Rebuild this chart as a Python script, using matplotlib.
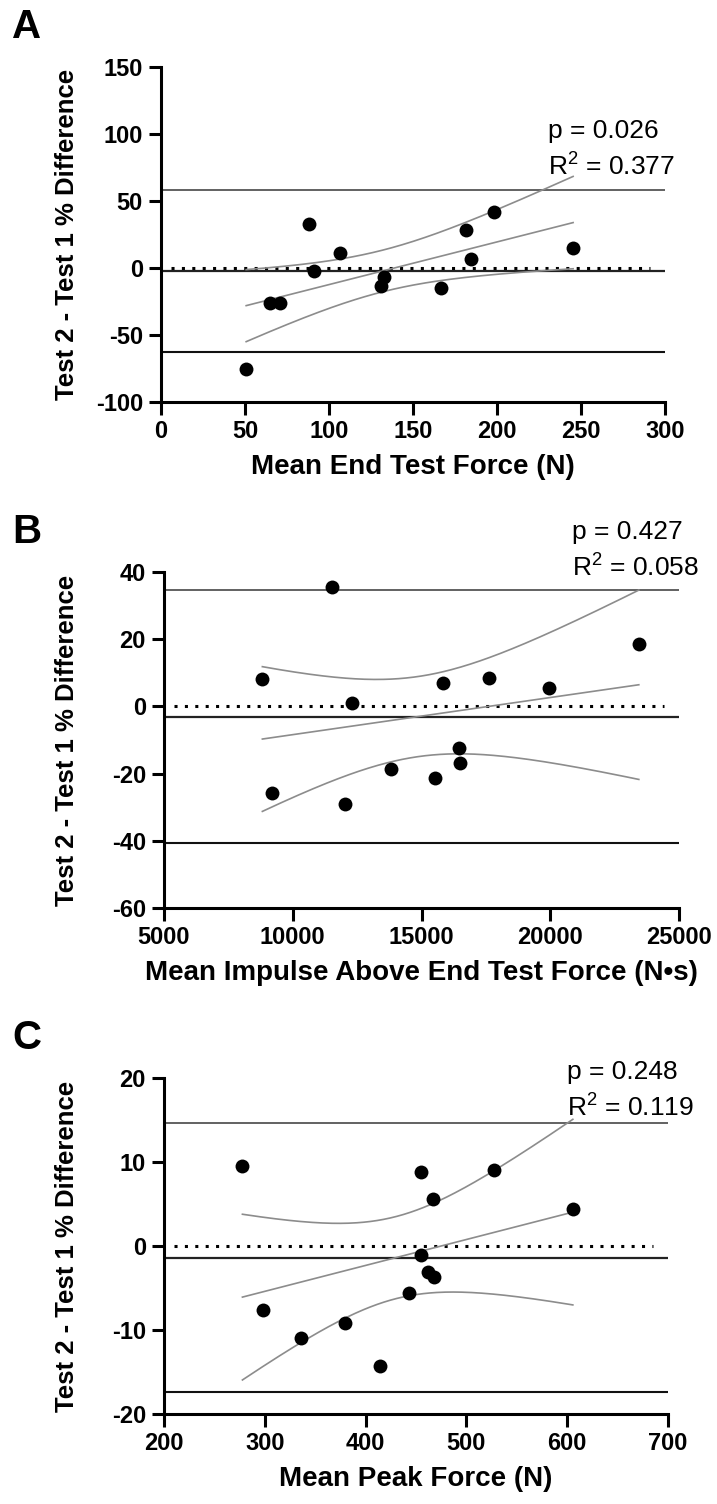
import numpy as np
import matplotlib
matplotlib.use('Agg')
import matplotlib.pyplot as plt
from matplotlib.transforms import blended_transform_factory

# panel A: end test force
end_force_mean = [50.7, 64.6, 71.0, 88.2, 90.8, 106.5, 131.0, 133.0, 166.8, 181.8, 184.5, 198.4, 245.3]
end_force_diff = [-75.3, -26.3, -26.3, 32.8, -2.5, 10.9, -13.2, -7.0, -14.9, 28.3, 6.7, 42.0, 15.2]

# panel B: impulse above end test force
impulse_mean = [8820, 9210, 11530, 12040, 12320, 13820, 15510, 15830, 16460, 16510, 17640, 19960, 23440]
impulse_diff = [8.2, -25.7, 35.6, -29.0, 1.1, -18.5, -21.4, 6.9, -12.5, -16.8, 8.5, 5.4, 18.6]

# panel C: peak force
peak_mean = [277.8, 298.3, 335.8, 379.6, 413.9, 443.3, 455.0, 455.3, 461.7, 467.7, 466.6, 527.1, 605.6]
peak_diff = [9.5, -7.6, -10.9, -9.2, -14.3, -5.6, 8.8, -1.1, -3.1, -3.7, 5.6, 9.1, 4.4]

stats_text = [('p = 0.026', '0.377'), ('p = 0.427', '0.058'), ('p = 0.248', '0.119')]
xlabels = ['Mean End Test Force (N)', 'Mean Impulse Above End Test Force (N\u2022s)', 'Mean Peak Force (N)']
ylabel = 'Test 2 - Test 1 % Difference'
letters = ['A', 'B', 'C']

T_CRIT = 2.201  # t(0.975, df=11)

plt.rcParams['font.family'] = ['Liberation Sans', 'DejaVu Sans']
plt.rcParams['font.weight'] = 'bold'
plt.rcParams['axes.labelweight'] = 'bold'
plt.rcParams['axes.unicode_minus'] = False

W, H = 717, 1504
fig = plt.figure(figsize=(W / 100, H / 100), dpi=100)


def px_axes(left, right, top, bottom):
    return fig.add_axes([left / W, 1 - bottom / H, (right - left) / W, (bottom - top) / H])


def panel(ax, x, y, xlim, xticks, ylim, yticks):
    x = np.array(x, dtype=float)
    y = np.array(y, dtype=float)
    n = len(x)
    bias = y.mean()
    sd = y.std(ddof=1)

    # bias and limits of agreement
    ax.axhline(bias + 1.96 * sd, color='#555555', lw=1.3, zorder=1)
    ax.axhline(bias - 1.96 * sd, color='#111111', lw=1.5, zorder=1)
    ax.axhline(bias, color='#222222', lw=1.6, zorder=1)
    ax.axhline(0, xmin=0.02, xmax=0.97, color='black', lw=2.2, linestyle=(0, (1, 2.4)), zorder=2)

    # linear fit with 95% confidence band
    slope, icpt = np.polyfit(x, y, 1)
    xs = np.linspace(x.min(), x.max(), 200)
    yfit = slope * xs + icpt
    resid = y - (slope * x + icpt)
    s = np.sqrt((resid ** 2).sum() / (n - 2))
    sxx = ((x - x.mean()) ** 2).sum()
    band = T_CRIT * s * np.sqrt(1 / n + (xs - x.mean()) ** 2 / sxx)
    for line in (yfit, yfit + band, yfit - band):
        ax.plot(xs, line, color='#8c8c8c', lw=1.2, zorder=3)

    ax.scatter(x, y, s=100, color='black', zorder=4, linewidths=0)

    ax.set_xlim(xlim)
    ax.set_ylim(ylim)
    ax.set_xticks(xticks)
    ax.set_yticks(yticks)
    for side in ('top', 'right'):
        ax.spines[side].set_visible(False)
    for side in ('left', 'bottom'):
        ax.spines[side].set_linewidth(2.2)
    ax.tick_params(direction='out', length=9, width=2.2, labelsize=17, pad=4)


axA = px_axes(161, 665, 67, 402)
panel(axA, end_force_mean, end_force_diff, (0, 300), range(0, 301, 50), (-100, 150), range(-100, 151, 50))
axB = px_axes(164, 679, 572, 908)
panel(axB, impulse_mean, impulse_diff, (5000, 25000), range(5000, 25001, 5000), (-60, 40), range(-60, 41, 20))
axC = px_axes(164, 668, 1078, 1414)
panel(axC, peak_mean, peak_diff, (200, 700), range(200, 701, 100), (-20, 20), range(-20, 21, 10))

text_pos = [(0.768, 0.808, 0.700), (0.792, 1.119, 1.012), (0.80, 1.018, 0.910)]
for ax, letter, xl, (ptxt, r2), (tx, ty1, ty2) in zip((axA, axB, axC), letters, xlabels, stats_text, text_pos):
    ax.set_xlabel(xl, fontsize=20, labelpad=8)
    ax.set_ylabel(ylabel, fontsize=18.5)
    ax.yaxis.set_label_coords(79 / W, 0.5, transform=blended_transform_factory(fig.transFigure, ax.transAxes))
    ax.text(tx, ty1, ptxt, transform=ax.transAxes, fontsize=19, fontweight='normal', va='center', ha='left')
    ax.text(tx, ty2, '$\\mathregular{R^2}$ = ' + r2, transform=ax.transAxes, fontsize=19,
            fontweight='normal', va='center', ha='left')
    top = ax.get_position().y1
    fig.text(12 / W, top + 29 / H, letter, fontsize=29, fontweight='bold', va='baseline', ha='left')

fig.savefig('out.png', dpi=100)
